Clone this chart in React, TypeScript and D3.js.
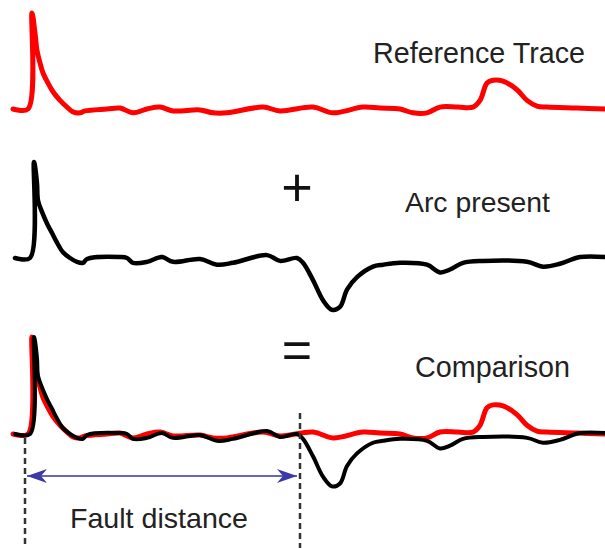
import * as d3 from "d3";

// distance along the line (px-ish units), amplitude normalised to the launch pulse
const refDist = [0, 15, 19, 22, 24, 27, 30, 35, 40, 47, 54, 60, 67, 72, 94, 107, 120, 134, 147, 160, 187, 200, 214, 250, 267, 300, 320, 350, 367, 387, 400, 414, 427, 445, 460, 467, 474, 480, 490, 504, 514, 524, 534, 564, 592];
const refAmp = [0, 0, 1.0, 0.79, 0.61, 0.48, 0.375, 0.27, 0.18, 0.09, 0.02, -0.03, -0.04, -0.02, 0, 0.01, -0.04, 0, 0.02, -0.02, -0.01, -0.04, -0.04, 0.02, -0.02, 0.02, -0.04, 0.02, 0.01, 0, -0.04, -0.04, 0.02, 0.02, 0.02, 0.09, 0.27, 0.3, 0.29, 0.2, 0.09, 0.03, 0.02, 0.01, 0];

const arcDist = [2, 17, 21, 24, 25, 29, 34, 39, 44, 50, 57, 64, 70, 74, 107, 114, 120, 134, 149, 160, 187, 204, 220, 254, 267, 284, 290, 300, 310, 319, 327, 334, 344, 360, 370, 387, 414, 427, 437, 450, 470, 514, 530, 547, 567, 592];
const arcAmp = [0, 0, 1.0, 0.78, 0.6, 0.48, 0.36, 0.26, 0.16, 0.06, 0, -0.04, -0.05, -0.01, 0.01, 0, -0.05, -0.04, 0.01, -0.04, -0.01, -0.07, -0.05, 0.03, -0.03, 0, -0.05, -0.23, -0.44, -0.54, -0.51, -0.33, -0.2, -0.09, -0.07, -0.05, -0.07, -0.15, -0.12, -0.05, -0.03, -0.04, -0.09, -0.06, 0.01, 0.01];

const launchAt = 12; // start of the first pulse
const faultAt = 287; // where the traces part

const panels = [
  { title: "Reference Trace", base: 109, gain: 96, traces: ["ref"] },
  { title: "Arc present", base: 258, gain: 96, traces: ["arc"] },
  { title: "Comparison", base: 434, gain: 97, traces: ["ref", "arc"] },
];

const W = 605;
const H = 548;
const FONT = "'Liberation Sans', Arial, sans-serif";

export default function App() {
  const x = d3.scaleLinear().domain([0, 592]).range([13, 605]);

  const series: Record<string, { d: number[]; a: number[]; color: string; width: number }> = {
    ref: { d: refDist, a: refAmp, color: "#ff0000", width: 5 },
    arc: { d: arcDist, a: arcAmp, color: "#000000", width: 4.5 },
  };

  const arrowY = 476;
  const x0 = x(launchAt);
  const x1 = x(faultAt);

  return (
    <svg width={W} height={H} style={{ position: "absolute", left: 0, top: 0, background: "#fff" }}>
      <defs>
        <marker id="head" viewBox="0 0 20 14" refX="20" refY="7" markerWidth="20" markerHeight="14" markerUnits="userSpaceOnUse" orient="auto-start-reverse">
          <path d="M0,0 L20,7 L0,14 L6,7 Z" fill="#3b3ba8" />
        </marker>
      </defs>

      {panels.map((p) => {
        const y = d3.scaleLinear().domain([0, 1]).range([p.base, p.base - p.gain]);
        return (
          <g key={p.title}>
            {p.traces.map((k) => {
              const s = series[k];
              const line = d3
                .line<number>()
                .x((_, i) => x(s.d[i]))
                .y((v) => y(v))
                .curve(d3.curveCatmullRom.alpha(0.5));
              return (
                <path
                  key={k}
                  d={line(s.a) || ""}
                  fill="none"
                  stroke={s.color}
                  strokeWidth={p.traces.length > 1 && k === "arc" ? 4 : s.width}
                  strokeLinejoin="round"
                  strokeLinecap="round"
                />
              );
            })}
          </g>
        );
      })}

      <text x={373} y={63} fontFamily={FONT} fontSize={30} fill="#222" textLength={212} lengthAdjust="spacingAndGlyphs">
        Reference Trace
      </text>
      <text x={405} y={212} fontFamily={FONT} fontSize={28} fill="#222" textLength={145} lengthAdjust="spacingAndGlyphs">
        Arc present
      </text>
      <text x={415} y={377} fontFamily={FONT} fontSize={29} fill="#222" textLength={155} lengthAdjust="spacingAndGlyphs">
        Comparison
      </text>
      <text x={70} y={528} fontFamily={FONT} fontSize={28} fill="#222" textLength={178} lengthAdjust="spacingAndGlyphs">
        Fault distance
      </text>

      <text x={297} y={206} fontFamily={FONT} fontSize={54} fill="#111" textAnchor="middle">
        +
      </text>
      <text x={297} y={368} fontFamily={FONT} fontSize={52} fill="#111" textAnchor="middle">
        =
      </text>

      <line x1={x0} x2={x0} y1={438} y2={H} stroke="#333" strokeWidth={2.5} strokeDasharray="6 4" />
      <line x1={x1} x2={x1} y1={413} y2={H} stroke="#333" strokeWidth={2.5} strokeDasharray="6 4" />

      <line
        x1={x0 + 2}
        x2={x1 - 3}
        y1={arrowY}
        y2={arrowY}
        stroke="#6666b8"
        strokeWidth={2}
        markerStart="url(#head)"
        markerEnd="url(#head)"
      />
    </svg>
  );
}
